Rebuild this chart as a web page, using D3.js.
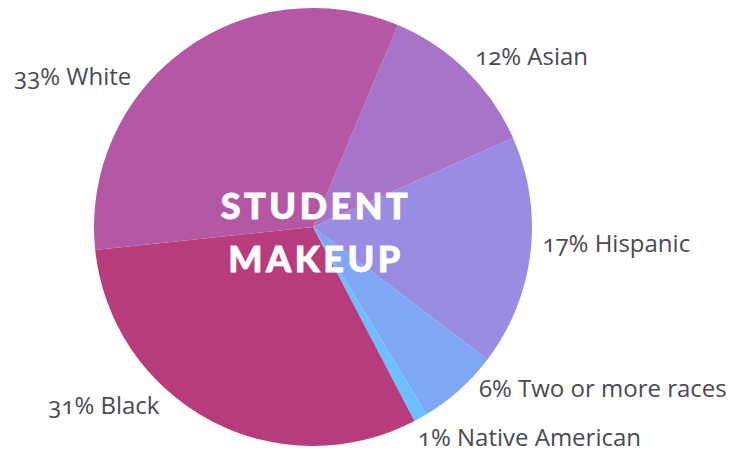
<!DOCTYPE html>
<html>
<head>
<meta charset="utf-8">
<script src="https://cdn.jsdelivr.net/npm/d3@7"></script>
<style>
  body { margin: 0; background: #fff; }
  .label { font-family: "Open Sans", Lato, sans-serif; font-size: 24px; fill: #4a4a4f; font-variant-numeric: oldstyle-nums; }
  .title { font-family: Lato, sans-serif; font-weight: 900; font-size: 36px; fill: #fff; letter-spacing: 3.5px; stroke: #fff; stroke-width: 0.8px; }
</style>
</head>
<body>
<svg id="chart" width="747" height="459"></svg>
<script>
// slice data, clockwise from the Asian slice
const groups = ["Asian", "Hispanic", "Two or more races", "Native American", "Black", "White"];
const shares = [12, 17, 6, 1, 31, 33];
const colors = ["#a874ca", "#998ce3", "#7fa7f5", "#6cc0ff", "#b83c7c", "#b458a6"];
const titleLines = ["STUDENT", "MAKEUP"];

const svg = d3.select("#chart");
const cx = 313, cy = 227, radius = 219;

const g = svg.append("g").attr("transform", `translate(${cx},${cy})`);

const pie = d3.pie()
    .sort(null)
    .value(d => d.value)
    .startAngle(0.398)
    .endAngle(0.398 + 2 * Math.PI);

const data = groups.map((name, i) => ({ name: name, value: shares[i], color: colors[i] }));
const arcs = pie(data);

const arc = d3.arc().innerRadius(0).outerRadius(radius);

g.selectAll("path.slice")
  .data(arcs)
  .join("path")
    .attr("class", "slice")
    .attr("d", arc)
    .attr("fill", d => d.data.color);

// labels sit just outside the rim; left side labels are pulled in a bit
const labelArc = d3.arc().innerRadius(radius + 17).outerRadius(radius + 17);
const nudge = {
  "Asian": [-3, 0],
  "Hispanic": [-5, -9],
  "Two or more races": [8, -12],
  "Native American": [-11, 7],
  "Black": [-42, -27],
  "White": [-41, 41]
};

g.selectAll("text.label")
  .data(arcs)
  .join("text")
    .attr("class", "label")
    .attr("text-anchor", d => (d.startAngle + d.endAngle) / 2 > Math.PI ? "end" : "start")
    .attr("dominant-baseline", "middle")
    .attr("x", d => labelArc.centroid(d)[0] + nudge[d.data.name][0])
    .attr("y", d => labelArc.centroid(d)[1] + nudge[d.data.name][1])
    .text(d => d.data.value + "% " + d.data.name);

// title in the middle
g.selectAll("text.title")
  .data(titleLines)
  .join("text")
    .attr("class", "title")
    .attr("text-anchor", "middle")
    .attr("x", 3)
    .attr("y", (d, i) => -8 + i * 53)
    .text(d => d);
</script>
</body>
</html>
